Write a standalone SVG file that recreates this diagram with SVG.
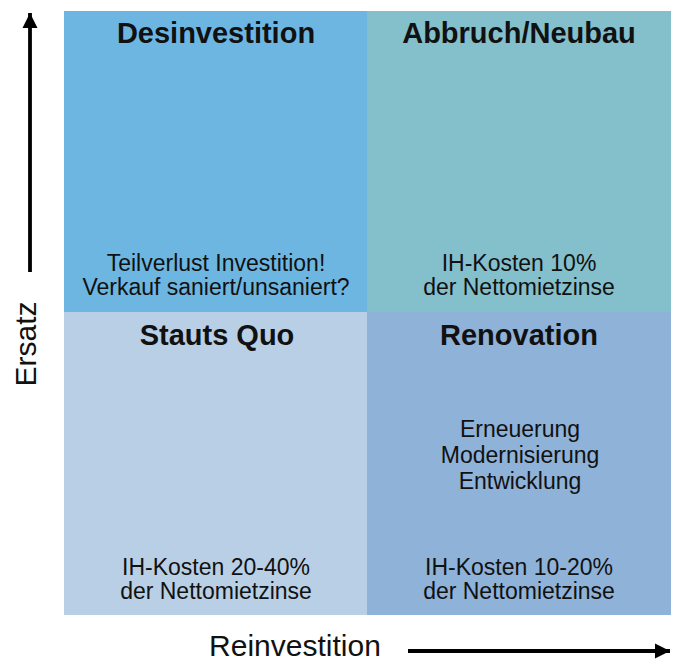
<svg xmlns="http://www.w3.org/2000/svg" width="676" height="661" viewBox="0 0 676 661">
<style>
text{font-family:"Liberation Sans",Arial,sans-serif;fill:#111;text-anchor:middle}
.t{font-size:29px;font-weight:bold}
.b{font-size:23px}
.ax{font-size:30px}
</style>
<defs>
<marker id="ah" markerWidth="4" markerHeight="4" refX="4" refY="2" orient="auto" markerUnits="strokeWidth">
<path d="M0,0 L4,2 L0,4 Z" fill="#000"/>
</marker>
</defs>
<rect width="676" height="661" fill="#fff"/>
<g id="q-desinvestition">
<rect x="64" y="11" width="303" height="301" fill="#6db6e2"/>
<text class="t" x="216" y="43">Desinvestition</text>
<text class="b" x="216" y="271">Teilverlust Investition!</text>
<text class="b" x="216" y="295">Verkauf saniert/unsaniert?</text>
</g>
<g id="q-abbruch">
<rect x="367" y="11" width="304" height="301" fill="#84bfcc"/>
<text class="t" x="519" y="43">Abbruch/Neubau</text>
<text class="b" x="519" y="271">IH-Kosten 10%</text>
<text class="b" x="519" y="295">der Nettomietzinse</text>
</g>
<g id="q-status">
<rect x="64" y="312" width="303" height="303" fill="#b8cfe5"/>
<text class="t" x="217" y="345">Stauts Quo</text>
<text class="b" x="216" y="575">IH-Kosten 20-40%</text>
<text class="b" x="216" y="599">der Nettomietzinse</text>
</g>
<g id="q-renovation">
<rect x="367" y="312" width="304" height="303" fill="#8eb2d8"/>
<text class="t" x="519" y="345">Renovation</text>
<text class="b" x="520" y="437">Erneuerung</text>
<text class="b" x="520" y="463">Modernisierung</text>
<text class="b" x="520" y="489">Entwicklung</text>
<text class="b" x="519" y="575">IH-Kosten 10-20%</text>
<text class="b" x="519" y="599">der Nettomietzinse</text>
</g>
<g id="connectors" stroke="#000" stroke-width="3.8" fill="none">
<line x1="30" y1="272" x2="30" y2="13" marker-end="url(#ah)"/>
<line x1="408" y1="651" x2="670" y2="651" marker-end="url(#ah)"/>
</g>
<g id="axis-labels">
<text class="ax" transform="translate(36,344) rotate(-90)">Ersatz</text>
<text class="ax" x="295" y="656">Reinvestition</text>
</g>
</svg>
